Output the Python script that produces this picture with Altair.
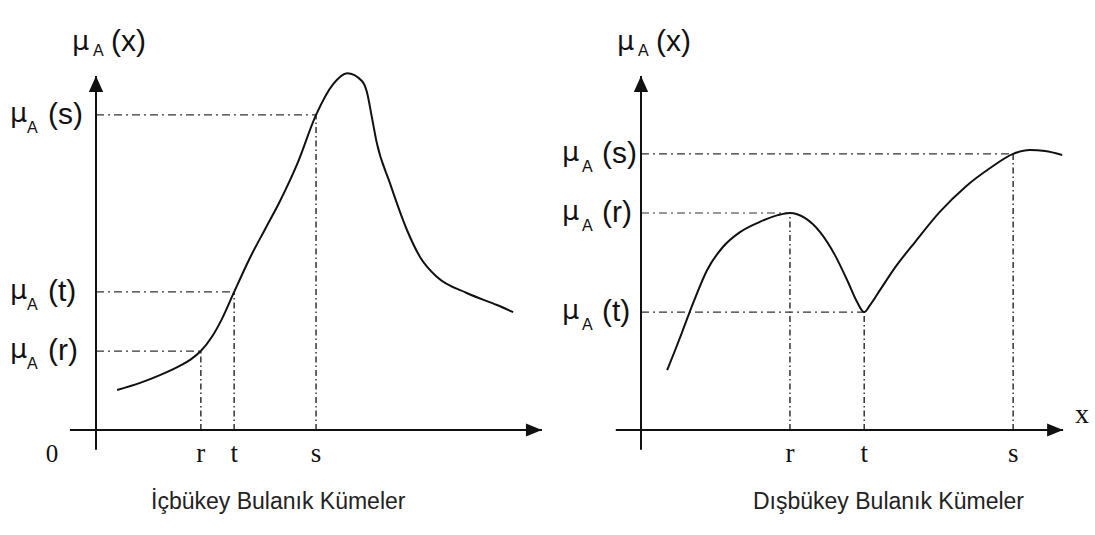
import altair as alt
import pandas as pd

# Concave fuzzy set: sample points of the membership curve mu_A(x)
concave_x = [0.47, 0.98, 1.42, 1.87, 2.10, 2.33, 2.58, 2.80, 3.07, 3.42, 3.76, 4.09,
             4.47, 4.89, 5.27, 5.58, 5.91, 6.02, 6.13, 6.24, 6.53, 6.91, 7.20, 7.58,
             8.24, 8.91, 9.27]
concave_mu = [0.113, 0.133, 0.155, 0.182, 0.199, 0.223, 0.264, 0.314, 0.390, 0.486,
              0.568, 0.647, 0.751, 0.890, 0.977, 1.008, 0.986, 0.955, 0.884, 0.811,
              0.698, 0.565, 0.489, 0.432, 0.387, 0.353, 0.333]
concave_names = ["r", "t", "s"]
concave_pos = [2.33, 3.07, 4.89]
concave_level = [0.223, 0.390, 0.890]

# Convex fuzzy set
convex_x = [0.58, 0.76, 0.93, 1.16, 1.47, 1.82, 2.20, 2.64, 3.04, 3.31, 3.64, 3.98,
            4.31, 4.60, 4.80, 4.96, 5.09, 5.31, 5.64, 6.09, 6.64, 7.20, 7.76, 8.27,
            8.64, 8.98, 9.36]
convex_mu = [0.169, 0.226, 0.282, 0.359, 0.452, 0.517, 0.559, 0.588, 0.607, 0.613,
             0.599, 0.559, 0.494, 0.418, 0.362, 0.333, 0.353, 0.395, 0.458, 0.531,
             0.616, 0.686, 0.740, 0.780, 0.791, 0.788, 0.777]
convex_names = ["r", "t", "s"]
convex_pos = [3.31, 4.96, 8.27]
convex_level = [0.613, 0.333, 0.780]

titles = ["İçbükey Bulanık Kümeler", "Dışbükey Bulanık Kümeler"]

INK = "#111111"
SANS = "Liberation Sans"
SERIF = "Liberation Serif"
GREEK = "DejaVu Sans"
PANEL_H = 535
Y_DOMAIN = [-0.2966, 1.2147]


def panel(cx, cmu, names, pos, level, title, title_x, width, x_domain,
          x_from, x_to, lab_dx, zero_label, x_label):
    xs = alt.Scale(domain=x_domain, nice=False, zero=False)
    ys = alt.Scale(domain=Y_DOMAIN, nice=False, zero=False)

    def X(f):
        return alt.X(f, type="quantitative", scale=xs, axis=None)

    def Y(f):
        return alt.Y(f, type="quantitative", scale=ys, axis=None)

    curve_df = pd.DataFrame({"x": cx, "mu": cmu})
    marks_df = pd.DataFrame({"name": names, "pos": pos, "level": level})
    marks_df["origin"] = 0.0
    axes_df = pd.DataFrame({"x": [x_from, 0.0], "x2": [x_to, 0.0],
                            "y": [0.0, -0.056], "y2": [0.0, 1.0]})
    xtip_df = pd.DataFrame({"x": [x_to], "y": [0.0]})
    ytip_df = pd.DataFrame({"x": [0.0], "y": [1.0]})
    title_df = pd.DataFrame({"x": [title_x], "y": [0.0], "t": [title]})

    curve = alt.Chart(curve_df).mark_line(
        color=INK, strokeWidth=2, interpolate="monotone"
    ).encode(x=X("x"), y=Y("mu"))

    hguide = alt.Chart(marks_df).mark_rule(
        color="#333333", strokeWidth=1.2, strokeDash=[8, 4, 2, 4]
    ).encode(x=X("origin"), x2=alt.X2("pos"), y=Y("level"))

    vguide = alt.Chart(marks_df).mark_rule(
        color="#333333", strokeWidth=1.5, strokeDash=[6, 3, 1.5, 3]
    ).encode(x=X("pos"), y=Y("origin"), y2=alt.Y2("level"))

    axes = alt.Chart(axes_df).mark_rule(color=INK, strokeWidth=2).encode(
        x=X("x"), x2=alt.X2("x2"), y=Y("y"), y2=alt.Y2("y2"))

    xtip = alt.Chart(xtip_df).mark_point(
        shape="M0,0L-2,-0.8L-2,0.8Z", size=256, filled=True, color=INK,
        opacity=1, strokeWidth=0
    ).encode(x=X("x"), y=Y("y"))
    ytip = alt.Chart(ytip_df).mark_point(
        shape="M0,0L0.9,2L-0.9,2Z", size=256, filled=True, color=INK,
        opacity=1, strokeWidth=0
    ).encode(x=X("x"), y=Y("y"))

    # membership level labels: mu, subscript A, (name)
    mu_lab = alt.Chart(marks_df).mark_text(
        text="μ", align="left", baseline="alphabetic", dx=lab_dx[0], dy=7,
        font=GREEK, fontSize=27, color=INK
    ).encode(x=X("origin"), y=Y("level"))
    a_lab = alt.Chart(marks_df).mark_text(
        text="A", align="left", baseline="alphabetic", dx=lab_dx[1], dy=18,
        font=SANS, fontSize=16, color=INK
    ).encode(x=X("origin"), y=Y("level"))
    p_lab = alt.Chart(marks_df).transform_calculate(
        paren="'(' + datum.name + ')'"
    ).mark_text(
        align="left", baseline="alphabetic", dx=lab_dx[2], dy=9,
        font=SANS, fontSize=30, color=INK
    ).encode(x=X("origin"), y=Y("level"), text="paren:N")

    # axis name at the top of the vertical axis
    top_mu = alt.Chart(ytip_df).mark_text(
        text="μ", align="left", baseline="alphabetic", dx=-24, dy=-26,
        font=GREEK, fontSize=27, color=INK
    ).encode(x=X("x"), y=Y("y"))
    top_a = alt.Chart(ytip_df).mark_text(
        text="A", align="left", baseline="alphabetic", dx=-3, dy=-20,
        font=SANS, fontSize=16, color=INK
    ).encode(x=X("x"), y=Y("y"))
    top_p = alt.Chart(ytip_df).mark_text(
        text="(x)", align="left", baseline="alphabetic", dx=15, dy=-25,
        font=SANS, fontSize=30, color=INK
    ).encode(x=X("x"), y=Y("y"))

    xnames = alt.Chart(marks_df).mark_text(
        align="center", baseline="alphabetic", dy=32, font=SERIF,
        fontSize=27, color=INK
    ).encode(x=X("pos"), y=Y("origin"), text="name:N")

    title_txt = alt.Chart(title_df).mark_text(
        align="center", baseline="alphabetic", dy=79, font=SANS,
        fontSize=23, color="#222222"
    ).encode(x=X("x"), y=Y("y"), text="t:N")

    layers = [hguide, vguide, axes, xtip, ytip, curve, mu_lab, a_lab, p_lab,
              top_mu, top_a, top_p, xnames, title_txt]

    if zero_label:
        layers.append(alt.Chart(ytip_df).mark_text(
            text="0", align="center", baseline="alphabetic", dx=-44, dy=32,
            font=SERIF, fontSize=25, color=INK
        ).encode(x=X("x"), y=Y("origin")).transform_calculate(origin="0"))
    if x_label:
        layers.append(alt.Chart(xtip_df).mark_text(
            text="x", align="left", baseline="alphabetic", dx=12, dy=-7,
            font=SERIF, fontSize=28, color=INK
        ).encode(x=X("x"), y=Y("y")))

    return alt.layer(*layers).properties(width=width, height=PANEL_H)


left = panel(concave_x, concave_mu, concave_names, concave_pos, concave_level,
             titles[0], 4.05, 548, [-2.1333, 10.0444], -0.58, 9.91,
             (-86, -69, -48), True, False)
right = panel(convex_x, convex_mu, convex_names, convex_pos, convex_level,
              titles[1], 5.5, 547, [-2.0667, 10.0889], -0.56, 9.38,
              (-79, -59, -39), False, True)

chart = alt.hconcat(left, right, spacing=0).properties(
    padding=0, background="white"
).configure_view(stroke=None)

chart.save("out.html", embed_options={"renderer": "svg", "actions": False})
